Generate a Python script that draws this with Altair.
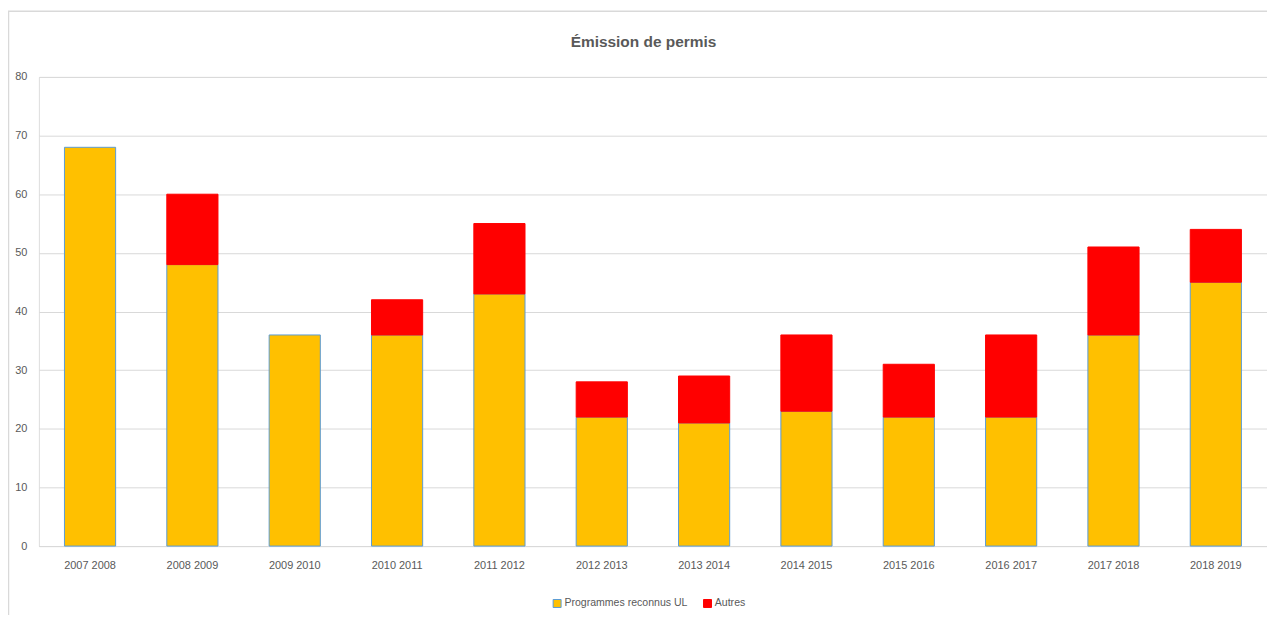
import altair as alt
import pandas as pd

periods = ["2007 2008", "2008 2009", "2009 2010", "2010 2011", "2011 2012", "2012 2013",
           "2013 2014", "2014 2015", "2015 2016", "2016 2017", "2017 2018", "2018 2019"]
programmes = [68, 48, 36, 36, 43, 22, 21, 23, 22, 22, 36, 45]
autres = [0, 12, 0, 6, 12, 6, 8, 13, 9, 14, 15, 9]
series_names = ["Programmes reconnus UL", "Autres"]
fill_colors = ["#FFC000", "#FF0000"]
stroke_colors = ["#5B9BD5", "#FF0000"]
y_ticks = [0, 10, 20, 30, 40, 50, 60, 70, 80]
title_text = "Émission de permis"

rows = []
for p, a, b in zip(periods, programmes, autres):
    rows.append({"period": p, "series": series_names[0], "ord": 0, "value": a})
    rows.append({"period": p, "series": series_names[1], "ord": 1, "value": b})
df = pd.DataFrame(rows)

FONT = "Liberation Sans, Arial, sans-serif"
W, H = 1233, 471

legend = alt.Legend(
    title=None, orient="none", legendX=515, legendY=523, direction="horizontal",
    symbolType="square", symbolSize=64, symbolStrokeWidth=1, labelOffset=2,
    labelFontSize=10.6, labelColor="#595959", labelFont=FONT, columnPadding=13,
)

bars = alt.Chart(df).transform_filter("datum.value > 0").mark_bar(strokeWidth=1).encode(
    x=alt.X("period:N", sort=periods,
            scale=alt.Scale(paddingInner=0.5, paddingOuter=0.25),
            axis=alt.Axis(title=None, labelAngle=0, ticks=False, domain=True,
                          domainColor="#d9d9d9", labelPadding=14, labelFontSize=11,
                          labelColor="#595959", labelFont=FONT)),
    y=alt.Y("value:Q", stack="zero",
            scale=alt.Scale(domain=[0, 80], nice=False),
            axis=alt.Axis(title=None, values=y_ticks, ticks=False, domain=False,
                          grid=True, gridColor="#d9d9d9", labelPadding=12,
                          labelFontSize=11, labelColor="#595959", labelFont=FONT)),
    color=alt.Color("series:N", scale=alt.Scale(domain=series_names, range=fill_colors),
                    legend=legend),
    stroke=alt.Stroke("series:N", scale=alt.Scale(domain=series_names, range=stroke_colors),
                      legend=legend),
    order=alt.Order("ord:Q", sort="ascending"),
)

frame = pd.DataFrame({"k": [0]})
top_border = alt.Chart(frame).mark_rule(color="#d9d9d9", strokeWidth=1.5).encode(
    x=alt.value(-31), x2=alt.value(W + 10), y=alt.value(-66))
left_border = alt.Chart(frame).mark_rule(color="#d9d9d9", strokeWidth=1.5).encode(
    x=alt.value(-30.5), y=alt.value(-66), y2=alt.value(H + 80))
title = alt.Chart(frame).mark_text(
    fontSize=15.5, fontWeight="bold", color="#595959", font=FONT,
    align="center", baseline="middle").encode(
    text=alt.value(title_text), x=alt.value(607), y=alt.value(-35))

chart = alt.layer(top_border, left_border, bars, title).properties(
    width=W, height=H,
    autosize=alt.AutoSizeParams(type="none"),
    padding={"left": 31, "top": 68, "right": 0, "bottom": 68},
).configure_view(stroke=None).configure(background="white")

chart.save("out.html", embed_options={"renderer": "svg", "actions": False})
